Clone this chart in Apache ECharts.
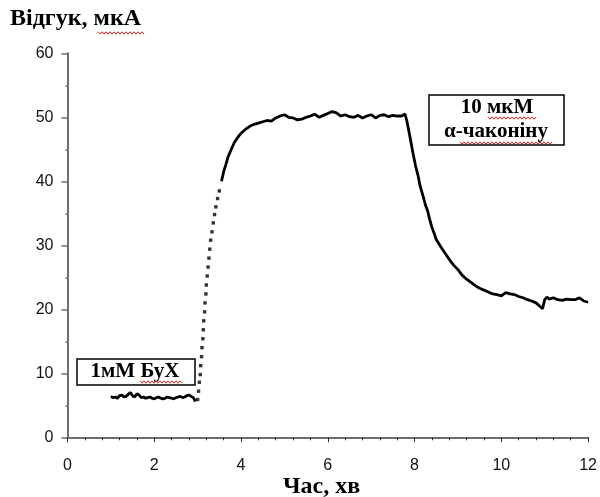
<!DOCTYPE html>
<html><head><meta charset="utf-8">
<script src="https://cdn.jsdelivr.net/npm/echarts@6/dist/echarts.min.js"></script>
<style>html,body{margin:0;padding:0;background:#fff}#c{width:600px;height:497px}</style>
</head><body><div id="c"></div>
<script>
// ---- data ----
const xTicks = [0, 2, 4, 6, 8, 10, 12];
const yTicks = [0, 10, 20, 30, 40, 50, 60];
const yTitle = 'Відгук, мкА';
const xTitle = 'Час, хв';
const note1 = '1мМ БуХ';
const note2 = ['10 мкМ', 'α-чаконіну'];

// baseline before butyrylcholine
const baseTime = [1.0,1.05,1.1,1.15,1.2,1.25,1.3,1.35,1.4,1.45,1.5,1.55,1.6,1.65,1.7,1.75,1.8,1.85,1.9,1.95,2.0,2.05,2.1,2.15,2.2,2.25,2.3,2.35,2.4,2.45,2.5,2.55,2.6,2.65,2.7,2.75,2.8,2.85,2.9,2.95];
const baseResp = [6.4,6.2,6.3,6.1,6.5,6.6,6.3,6.4,6.7,7.0,6.5,6.3,6.8,6.6,6.2,6.3,6.1,6.2,6.3,6.1,6.0,6.2,6.3,6.1,6.0,6.1,6.3,6.2,6.1,6.0,6.2,6.3,6.4,6.2,6.3,6.5,6.6,6.4,6.2,5.6];

// fast rise (sparse dots)
const riseTime = [3.00,3.02,3.04,3.06,3.07,3.09,3.10,3.12,3.13,3.14,3.16,3.17,3.19,3.20,3.22,3.24,3.26,3.28,3.30,3.33,3.36,3.39,3.42,3.46,3.50];
const riseResp = [5.9,7.2,8.6,9.8,11.2,12.6,14.0,15.4,16.8,18.2,19.6,21.0,22.4,23.8,25.2,26.6,28.0,29.4,30.8,32.1,33.5,34.8,36.0,37.3,38.5];

// plateau, inhibition and decay
const mainTime = [3.55,3.6,3.65,3.7,3.75,3.8,3.85,3.9,3.95,4.0,4.1,4.2,4.3,4.4,4.5,4.6,4.7,4.8,4.9,5.0,5.1,5.2,5.3,5.4,5.5,5.6,5.7,5.8,5.9,6.0,6.1,6.2,6.3,6.4,6.5,6.6,6.7,6.8,6.9,7.0,7.1,7.2,7.3,7.4,7.5,7.6,7.7,7.78,7.82,7.87,7.92,7.97,8.02,8.08,8.13,8.2,8.25,8.3,8.35,8.4,8.45,8.5,8.6,8.7,8.8,8.9,9.0,9.1,9.2,9.3,9.4,9.5,9.6,9.7,9.8,9.9,10.0,10.1,10.2,10.3,10.4,10.5,10.6,10.7,10.8,10.9,10.95,11.0,11.05,11.1,11.2,11.3,11.4,11.5,11.6,11.7,11.8,11.9,12.0];
const mainResp = [40.0,41.5,42.6,43.8,44.6,45.4,46.1,46.6,47.1,47.5,48.1,48.6,48.9,49.1,49.3,49.5,49.4,49.9,50.2,50.4,50.0,49.9,49.6,49.7,50.0,50.2,50.5,50.0,50.3,50.6,50.9,50.7,50.2,50.4,50.1,50.0,50.3,49.9,50.2,50.4,49.9,50.3,50.4,50.1,50.3,50.2,50.2,50.5,49.5,47.8,46.0,44.2,42.5,40.9,39.2,37.6,36.3,35.4,34.0,32.8,31.9,30.9,29.8,28.8,27.8,26.9,26.2,25.3,24.7,24.2,23.7,23.3,23.0,22.7,22.4,22.3,22.1,22.6,22.4,22.3,22.0,21.8,21.5,21.3,21.0,20.4,20.1,21.5,21.9,21.6,21.8,21.5,21.4,21.6,21.5,21.5,21.8,21.3,21.1];

const zip = (a, b) => a.map((v, i) => [v, b[i]]);

function squiggle(x0, x1, y) {
  const pts = [];
  let up = true;
  for (let x = x0; x <= x1; x += 2) { pts.push([x, y + (up ? -1.2 : 1.2)]); up = !up; }
  return { type: 'polyline', shape: { points: pts }, style: { stroke: '#e02020', lineWidth: 1, fill: null }, z: 120 };
}

const serifBold = 'bold 24px "Liberation Serif", "DejaVu Serif", serif';
const noteFont = 'bold 21px "Liberation Serif", serif';
const axisGrey = '#6e6e6e';
const labelFont = { fontFamily: '"Liberation Sans", Arial, sans-serif', fontSize: 16, color: '#111' };

const chart = echarts.init(document.getElementById('c'), null, { renderer: 'canvas' });
chart.setOption({
  animation: false,
  backgroundColor: '#fff',
  grid: { left: 67.5, right: 6.7, top: 53.3, bottom: 59.7, containLabel: false },
  xAxis: {
    type: 'value', min: xTicks[0], max: xTicks[xTicks.length - 1], interval: 2,
    axisLine: { show: true, onZero: false, lineStyle: { color: axisGrey, width: 2 } },
    axisTick: { show: true, inside: false, length: 5, lineStyle: { color: '#333', width: 1 } },
    minorTick: { show: true, splitNumber: 5, length: 3, lineStyle: { color: '#333', width: 1 } },
    splitLine: { show: false },
    axisLabel: Object.assign({ show: true, margin: 20 }, labelFont)
  },
  yAxis: {
    type: 'value', min: yTicks[0], max: yTicks[yTicks.length - 1], interval: 10,
    axisLine: { show: true, onZero: false, lineStyle: { color: axisGrey, width: 2 } },
    axisTick: { show: true, inside: false, length: 6, lineStyle: { color: axisGrey, width: 1.5 } },
    minorTick: { show: true, splitNumber: 2, length: 2, lineStyle: { color: axisGrey, width: 1.5 } },
    splitLine: { show: false },
    axisLabel: Object.assign({ show: true, margin: 14 }, labelFont)
  },
  series: [
    { type: 'line', data: zip(baseTime, baseResp), symbol: 'none', lineStyle: { color: '#000', width: 2.8 }, z: 5 },
    { type: 'scatter', data: zip(riseTime, riseResp), symbol: 'rect', symbolSize: 3.4, itemStyle: { color: '#000' }, z: 5 },
    { type: 'line', data: zip(mainTime, mainResp), symbol: 'none', lineStyle: { color: '#000', width: 2.8 }, z: 5 }
  ],
  graphic: [
    { type: 'text', left: 10, top: 7, style: { text: yTitle, font: serifBold, fill: '#000' } },
    squiggle(98, 144, 33),
    { type: 'text', left: 283, top: 475, style: { text: xTitle, font: serifBold, fill: '#000' } },
    { type: 'rect', shape: { x: 77, y: 359, width: 118, height: 26 }, style: { fill: '#fff', stroke: '#000', lineWidth: 1.5 }, z: 100 },
    { type: 'text', x: 135, y: 372, style: { text: note1, font: noteFont, fill: '#000', align: 'center', verticalAlign: 'middle' }, z: 110 },
    squiggle(140, 183, 382),
    { type: 'rect', shape: { x: 429, y: 95, width: 135, height: 50 }, style: { fill: '#fff', stroke: '#000', lineWidth: 1.5 }, z: 100 },
    { type: 'text', x: 497, y: 108, style: { text: note2[0], font: noteFont, fill: '#000', align: 'center', verticalAlign: 'middle' }, z: 110 },
    { type: 'text', x: 496, y: 132, style: { text: note2[1], font: noteFont, fill: '#000', align: 'center', verticalAlign: 'middle' }, z: 110 },
    squiggle(488, 537, 118),
    squiggle(460, 552, 143)
  ]
});
</script>
</body></html>
